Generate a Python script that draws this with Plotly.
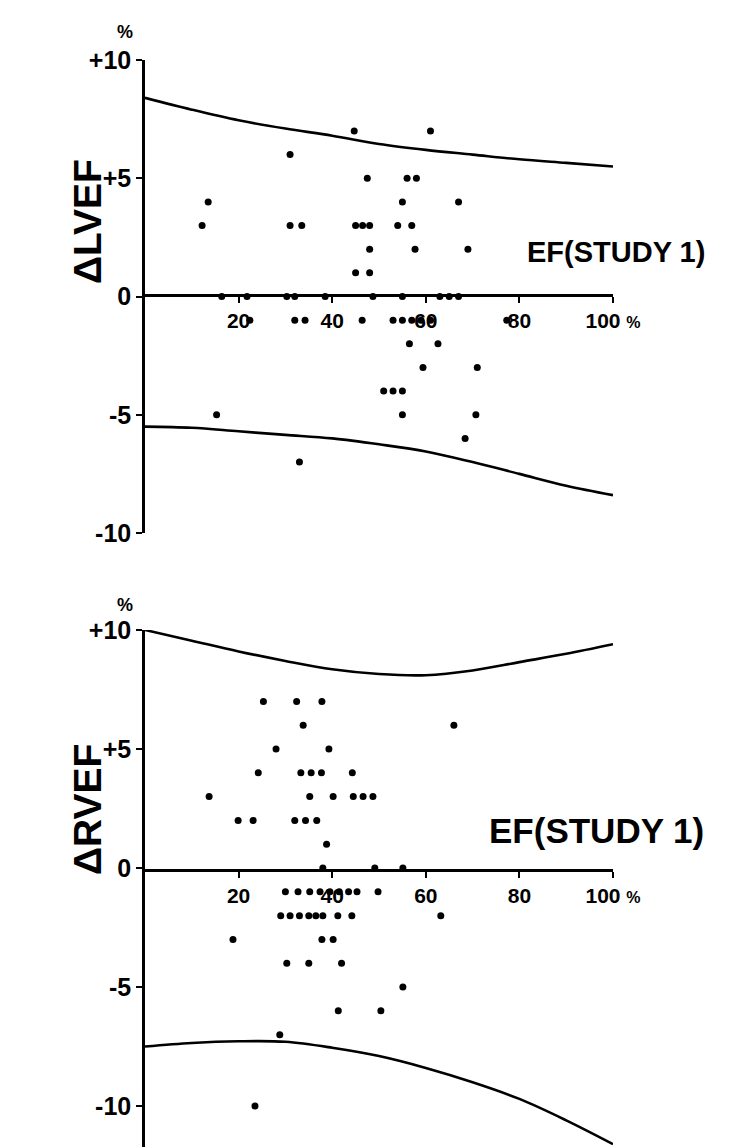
import plotly.graph_objects as go

# ---------------- data ----------------
ef_grid = [0, 10, 20, 30, 40, 50, 60, 70, 80, 90, 100]

# Upper panel: delta LVEF
lv_upper = [8.4, 7.9, 7.45, 7.1, 6.8, 6.45, 6.2, 6.0, 5.8, 5.65, 5.5]
lv_lower = [-5.5, -5.55, -5.7, -5.85, -6.0, -6.25, -6.55, -7.0, -7.5, -8.0, -8.4]

lv_ef = [44.7, 61,
         31,
         47.5, 56, 58,
         13.5, 55, 67,
         12.2, 31, 33.5, 45, 46.5, 48, 54, 57,
         48, 57.7, 69,
         45, 48,
         16.4, 21.8, 30.3, 32, 38.5, 48.7, 55, 63, 65, 67,
         22.4, 32, 34.2, 46.4, 53, 55, 57, 59, 61, 77.3,
         56.5, 62.6,
         59.4, 71,
         51, 53, 55,
         15.3, 55, 70.7,
         68.4,
         33]
lv_delta = [7, 7,
            6,
            5, 5, 5,
            4, 4, 4,
            3, 3, 3, 3, 3, 3, 3, 3,
            2, 2, 2,
            1, 1,
            0, 0, 0, 0, 0, 0, 0, 0, 0, 0,
            -1, -1, -1, -1, -1, -1, -1, -1, -1, -1,
            -2, -2,
            -3, -3,
            -4, -4, -4,
            -5, -5, -5,
            -6,
            -7]

# Lower panel: delta RVEF
rv_upper = [10.0, 9.55, 9.1, 8.7, 8.35, 8.15, 8.1, 8.3, 8.65, 9.0, 9.4]
rv_lower = [-7.5, -7.35, -7.28, -7.3, -7.55, -7.9, -8.4, -9.0, -9.7, -10.6, -11.6]

rv_ef = [25.3, 32.4, 37.8,
         33.8, 66,
         28, 39.3,
         24.2, 33.3, 35.5, 37.7, 44.3,
         13.7, 35.2, 40.2, 44.5, 46.6, 48.7,
         19.9, 23.1, 32, 34.3, 36.7,
         38.8,
         38, 49.1, 55.1,
         30, 32.7, 35.2, 37.4, 39.5, 41.5, 43.5, 45.3, 49.8,
         29, 31, 33, 35, 36.5, 38, 41.2, 44.2, 63.2,
         18.8, 37.8, 40.2,
         30.3, 35, 42,
         55.1,
         41.3, 50.4,
         28.8,
         23.5]
rv_delta = [7, 7, 7,
            6, 6,
            5, 5,
            4, 4, 4, 4, 4,
            3, 3, 3, 3, 3, 3,
            2, 2, 2, 2, 2,
            1,
            0, 0, 0,
            -1, -1, -1, -1, -1, -1, -1, -1, -1,
            -2, -2, -2, -2, -2, -2, -2, -2, -2,
            -3, -3, -3,
            -4, -4, -4,
            -5,
            -6, -6,
            -7,
            -10]

x_tickvals = [20, 40, 60, 80, 100]
x_ticktext = ["20", "40", "60", "80", "100 <span style='font-size:16px'>%</span>"]
y_tickvals = [10, 5, 0, -5, -10]
y_ticktext = ["+10", "+5", "0", "-5", "-10"]

# ---------------- layout helpers ----------------
W, H = 738, 1147
FONT = "Liberation Sans"


def px_x(p):
    return p / W


def px_y(p):
    return 1 - p / H


fig = go.Figure()

for ef, d, up, lo, xa, ya in [
    (lv_ef, lv_delta, lv_upper, lv_lower, "x", "y"),
    (rv_ef, rv_delta, rv_upper, rv_lower, "x2", "y2"),
]:
    fig.add_trace(go.Scatter(x=ef_grid, y=up, mode="lines", line=dict(color="black", width=2.6, shape="spline"),
                             xaxis=xa, yaxis=ya, showlegend=False, hoverinfo="skip"))
    fig.add_trace(go.Scatter(x=ef_grid, y=lo, mode="lines", line=dict(color="black", width=2.6, shape="spline"),
                             xaxis=xa, yaxis=ya, showlegend=False, hoverinfo="skip"))
    fig.add_trace(go.Scatter(x=ef, y=d, mode="markers", marker=dict(color="black", size=7),
                             xaxis=xa, yaxis=ya, showlegend=False, cliponaxis=False))

xdom = [px_x(145), px_x(613)]

common_x = dict(range=[0, 100], domain=xdom, anchor="free", showline=True, linecolor="black", linewidth=2.5,
                ticks="outside", ticklen=6, tickwidth=2, tickcolor="black",
                tickvals=x_tickvals, ticktext=x_ticktext,
                tickfont=dict(family=FONT, size=21, color="black", weight="bold"),
                showgrid=False, zeroline=False, fixedrange=True, automargin=False)
common_y = dict(showline=True, linecolor="black", linewidth=2.5,
                ticks="outside", ticklen=6, tickwidth=2, tickcolor="black",
                tickvals=y_tickvals, ticktext=y_ticktext,
                tickfont=dict(family=FONT, size=25, color="black", weight="bold"),
                showgrid=False, zeroline=False, fixedrange=True, automargin=False)

fig.update_layout(
    template="none",
    width=W, height=H, autosize=False,
    margin=dict(l=0, r=0, t=0, b=0, pad=0),
    paper_bgcolor="white", plot_bgcolor="white",
    xaxis=dict(common_x, position=px_y(295)),
    yaxis=dict(common_y, domain=[px_y(533), px_y(60)], range=[-10, 10], anchor="x"),
    xaxis2=dict(common_x, position=px_y(870)),
    yaxis2=dict(common_y, domain=[0, px_y(630)], range=[-11.72, 10], anchor="x2"),
)

ann_font = dict(family=FONT, color="black", weight="bold")
annotations = [
    dict(text="%", x=px_x(125), y=px_y(32), font=dict(ann_font, size=18)),
    dict(text="%", x=px_x(125), y=px_y(605), font=dict(ann_font, size=18)),
    dict(text="ΔLVEF", x=px_x(87), y=px_y(222), textangle=-90, font=dict(ann_font, size=39)),
    dict(text="ΔRVEF", x=px_x(87), y=px_y(810), textangle=-90, font=dict(ann_font, size=39)),
    dict(text="EF(STUDY 1)", x=px_x(525), y=px_y(252), xanchor="left", font=dict(ann_font, size=29)),
    dict(text="EF(STUDY 1)", x=px_x(487), y=px_y(830), xanchor="left", font=dict(ann_font, size=35)),
]
for a in annotations:
    a.update(xref="paper", yref="paper", showarrow=False)
    a.setdefault("xanchor", "center")
    a.setdefault("yanchor", "middle")
fig.update_layout(annotations=annotations)

fig.write_html("out.html")
